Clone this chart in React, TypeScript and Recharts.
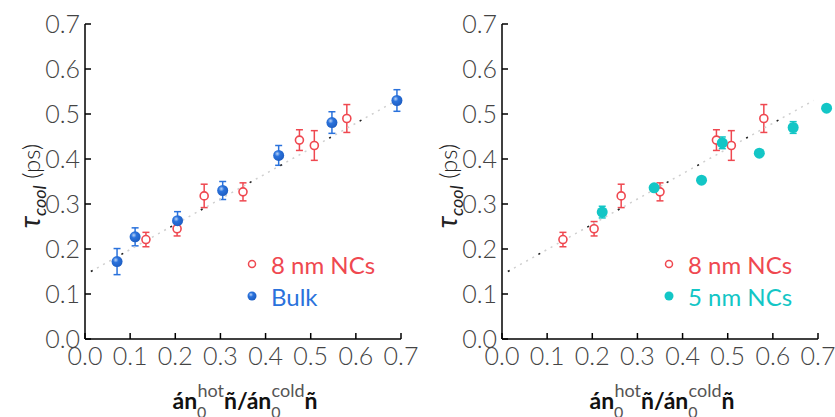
import { ScatterChart, Scatter, XAxis, YAxis, ErrorBar, Legend } from 'recharts'

const ticks = [0, 0.1, 0.2, 0.3, 0.4, 0.5, 0.6, 0.7]

// 8 nm NCs (both panels)
const nc8X = [0.135, 0.204, 0.264, 0.35, 0.475, 0.508, 0.58]
const nc8Y = [0.221, 0.245, 0.318, 0.327, 0.442, 0.43, 0.49]
const nc8Err = [0.016, 0.016, 0.026, 0.02, 0.023, 0.033, 0.031]

// bulk (left panel)
const bulkX = [0.071, 0.111, 0.205, 0.305, 0.429, 0.547, 0.691]
const bulkY = [0.172, 0.227, 0.263, 0.33, 0.408, 0.481, 0.53]
const bulkErr = [0.029, 0.02, 0.02, 0.02, 0.022, 0.024, 0.024]

// 5 nm NCs (right panel)
const nc5X = [0.222, 0.337, 0.442, 0.488, 0.57, 0.645, 0.719]
const nc5Y = [0.282, 0.336, 0.353, 0.436, 0.413, 0.47, 0.513]
const nc5Err = [0.013, 0.005, 0.003, 0.013, 0.006, 0.013, 0.005]

// dotted guide line
const fitX = [0.013, 0.69]
const fitY = [0.15, 0.53]

const RED = '#ef4850'
const BLUE = '#2a72dc'
const CYAN = '#13c6c6'
const FONT = 'Lato, "Open Sans", sans-serif'

const pts = (xs: number[], ys: number[], errs?: number[]) =>
  xs.map((x, i) => ({ x, y: ys[i], err: errs ? errs[i] : 0 }))

const OpenRed = (p: any) => <circle cx={p.cx} cy={p.cy} r={4} fill="#fff" stroke={RED} strokeWidth={1.6} />
const BlueBall = (p: any) => <circle cx={p.cx} cy={p.cy} r={5.5} fill="url(#bulkGrad)" />
const CyanDot = (p: any) => <circle cx={p.cx} cy={p.cy} r={5.5} fill={CYAN} />
const NoDot = () => <g />

function XLabel(props: any) {
  const vb = props.viewBox
  return (
    <text x={vb.x + vb.width / 2 + 2} y={vb.y + 70} textAnchor="middle" fontFamily={FONT} fontSize={23} fill="#111">
      <tspan fontWeight={700}>án</tspan>
      <tspan fontSize={16} dy={9} fill="#555">0</tspan>
      <tspan fontSize={18} dx={-9} dy={-21} fill="#555">hot</tspan>
      <tspan fontWeight={700} dy={12}>ñ/án</tspan>
      <tspan fontSize={16} dy={9} fill="#555">0</tspan>
      <tspan fontSize={18} dx={-9} dy={-21} fill="#555">cold</tspan>
      <tspan fontWeight={700} dy={12}>ñ</tspan>
    </text>
  )
}

function YLabel() {
  return (
    <text transform="translate(40,186) rotate(-90)" textAnchor="middle" fontFamily={FONT} fontSize={24} fill="#222">
      <tspan fontStyle="italic" fontSize={28}>τ</tspan>
      <tspan fontStyle="italic" fontSize={18} dy={6}>cool</tspan>
      <tspan dy={-6} fontWeight={300}> (ps)</tspan>
    </text>
  )
}

type Item = { name: string; color: string; marker: 'open' | 'ball' | 'dot' }

function LegendBox({ items }: { items: Item[] }) {
  return (
    <div style={{ fontFamily: FONT, fontSize: 24 }}>
      {items.map((it) => (
        <div key={it.name} style={{ display: 'flex', alignItems: 'center', height: 32 }}>
          <svg width={16} height={16}>
            {it.marker === 'open' && <circle cx={8} cy={8} r={3.5} fill="#fff" stroke={it.color} strokeWidth={1.5} />}
            {it.marker === 'ball' && <circle cx={8} cy={8} r={4.5} fill="url(#bulkGrad)" />}
            {it.marker === 'dot' && <circle cx={8} cy={8} r={4.5} fill={it.color} />}
          </svg>
          <span style={{ marginLeft: 11, color: it.color }}>{it.name}</span>
        </div>
      ))}
    </div>
  )
}

const tickStyle = { fontSize: 25, fill: '#444', fontFamily: FONT, fontWeight: 300 }
const frame = { stroke: '#000', strokeWidth: 1.5 }

function Panel({ right }: { right: boolean }) {
  const nc8 = pts(nc8X, nc8Y, nc8Err)
  const other = right ? pts(nc5X, nc5Y, nc5Err) : pts(bulkX, bulkY, bulkErr)
  const items: Item[] = right
    ? [
        { name: '8 nm NCs', color: RED, marker: 'open' },
        { name: '5 nm NCs', color: CYAN, marker: 'dot' },
      ]
    : [
        { name: '8 nm NCs', color: RED, marker: 'open' },
        { name: 'Bulk', color: BLUE, marker: 'ball' },
      ]
  return (
    <ScatterChart width={418} height={417} margin={{ top: 24, right: 17, bottom: 38, left: 25 }}>
      <defs>
        <radialGradient id="bulkGrad" cx="0.38" cy="0.35" r="0.7">
          <stop offset="0%" stopColor="#b9d3f7" />
          <stop offset="35%" stopColor={BLUE} />
          <stop offset="100%" stopColor="#1d5cc0" />
        </radialGradient>
      </defs>
      <XAxis
        type="number"
        dataKey="x"
        domain={[0, 0.7]}
        allowDataOverflow
        ticks={ticks}
        tickFormatter={(v: number) => v.toFixed(1)}
        height={40}
        tickSize={-6}
        tickMargin={14}
        tick={tickStyle}
        axisLine={frame}
        tickLine={frame}
        interval={0}
        label={<XLabel />}
      />
      <YAxis
        type="number"
        dataKey="y"
        domain={[0, 0.7]}
        allowDataOverflow
        ticks={ticks}
        tickFormatter={(v: number) => v.toFixed(1)}
        width={60}
        tickSize={-6}
        tickMargin={11}
        tick={tickStyle}
        axisLine={frame}
        tickLine={frame}
        interval={0}
        label={<YLabel />}
      />
      <XAxis xAxisId="top" orientation="top" type="number" domain={[0, 0.7]} allowDataOverflow ticks={ticks} height={0} tickSize={-6} tick={false} axisLine={frame} tickLine={frame} interval={0} />
      <YAxis yAxisId="right" orientation="right" type="number" domain={[0, 0.7]} allowDataOverflow ticks={ticks} width={0} tickSize={-6} tick={false} axisLine={frame} tickLine={frame} interval={0} />
      <Scatter
        data={pts(fitX, fitY)}
        line={{ stroke: '#cfcfcf', strokeWidth: 1.5, strokeDasharray: '2 5' }}
        shape={NoDot}
        legendType="none"
        isAnimationActive={false}
      />
      <Scatter
        data={pts(fitX, fitY)}
        line={{ stroke: '#222', strokeWidth: 1.5, strokeDasharray: '2 33 2 54' }}
        shape={NoDot}
        legendType="none"
        isAnimationActive={false}
      />
      <Scatter name="8 nm NCs" data={nc8} shape={OpenRed} isAnimationActive={false} className="noclip">
        <ErrorBar dataKey="err" direction="y" width={3.5} stroke={RED} strokeWidth={1.5} isAnimationActive={false} />
      </Scatter>
      <Scatter
        name={right ? '5 nm NCs' : 'Bulk'}
        data={other}
        shape={right ? CyanDot : BlueBall}
        isAnimationActive={false}
        className="noclip"
      >
        <ErrorBar dataKey="err" direction="y" width={3.5} stroke={right ? CYAN : BLUE} strokeWidth={1.5} isAnimationActive={false} />
      </Scatter>
      <Legend
        layout="vertical"
        align="center"
        verticalAlign="middle"
        content={() => <LegendBox items={items} />}
        wrapperStyle={{ left: 244, top: 248, width: 'auto', height: 'auto' }}
      />
    </ScatterChart>
  )
}

export default function App() {
  return (
    <div style={{ position: 'absolute', left: 0, top: 0, width: 835, height: 417, background: '#fff', overflow: 'hidden' }}>
      <style>{'.noclip{clip-path:none !important}'}</style>
      <div style={{ position: 'absolute', left: 0, top: 0 }}>
        <Panel right={false} />
      </div>
      <div style={{ position: 'absolute', left: 417, top: 0 }}>
        <Panel right />
      </div>
    </div>
  )
}
